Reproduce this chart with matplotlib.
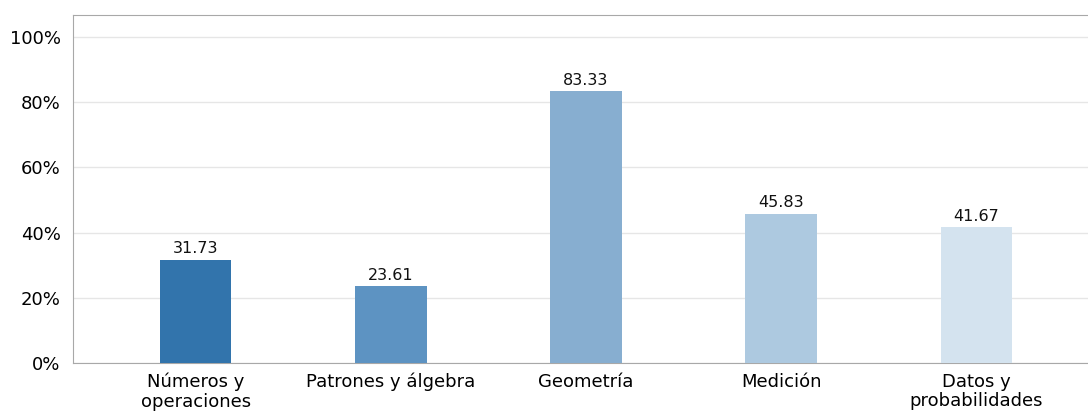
import matplotlib
matplotlib.use("Agg")
import matplotlib.pyplot as plt
from matplotlib.ticker import FuncFormatter

# datos del gráfico
categorias = ["Números y\noperaciones", "Patrones y álgebra", "Geometría",
              "Medición", "Datos y\nprobabilidades"]
valores = [31.73, 23.61, 83.33, 45.83, 41.67]
colores = ["#3274ac", "#5d93c2", "#87aed0", "#adc9e0", "#d4e3ef"]

fig = plt.figure(figsize=(10.88, 4.13), dpi=100)
ax = fig.add_axes([73 / 1088, 50 / 413, 1026 / 1088, 348 / 413])

x = range(len(categorias))
barras = ax.bar(x, valores, width=0.365, color=colores, zorder=3)
for b, v in zip(barras, valores):
    ax.text(b.get_x() + b.get_width() / 2, v + 1, f"{v:.2f}",
            ha="center", va="bottom", fontsize=11.5, color="#111111")

ax.set_xlim(-0.63, 4.63)
ax.set_ylim(0, 106.7)
ax.set_yticks([0, 20, 40, 60, 80, 100])
ax.yaxis.set_major_formatter(FuncFormatter(lambda v, p: f"{v:.0f}%"))
ax.set_xticks(list(x))
ax.set_xticklabels(categorias, fontsize=13, linespacing=1.1)
ax.tick_params(axis="y", labelsize=13, length=0, pad=9)
ax.tick_params(axis="x", length=0, pad=7)
ax.grid(axis="y", color="#e6e6e6", linewidth=1, zorder=0)
for s in ["left", "bottom", "top"]:
    ax.spines[s].set_color("#a8a8a8")
ax.spines["right"].set_visible(False)

fig.savefig("out.png", dpi=100)
